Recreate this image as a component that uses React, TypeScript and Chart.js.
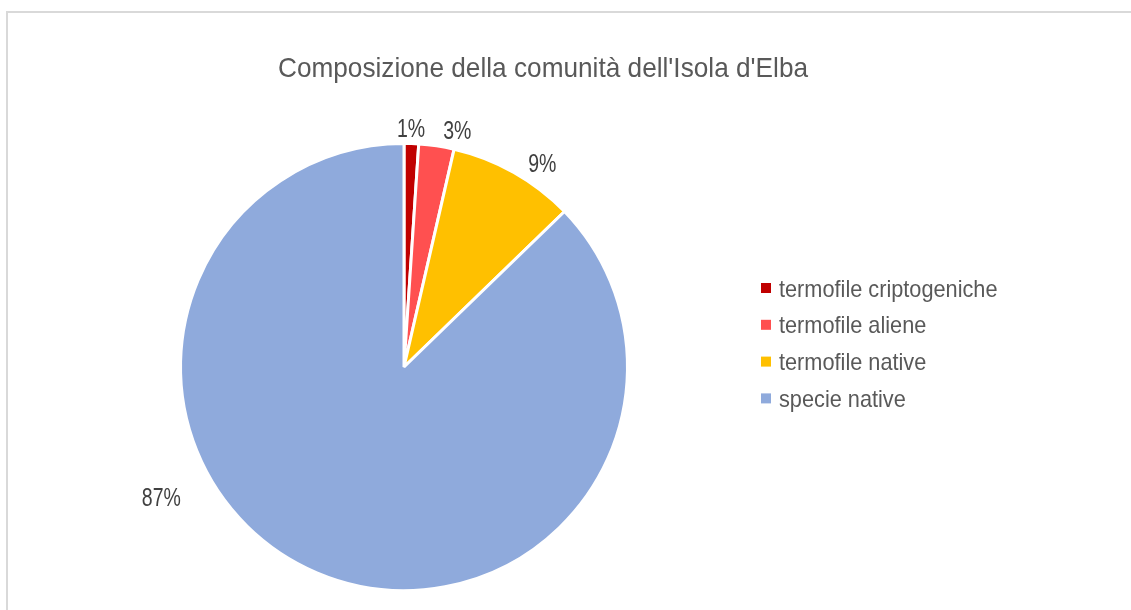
import React, { useEffect, useRef } from "react";
import { Chart, registerables } from "chart.js";

Chart.register(...registerables);

const chartTitle = "Composizione della comunità dell'Isola d'Elba";
const categories = [
  "termofile criptogeniche",
  "termofile aliene",
  "termofile native",
  "specie native",
];
const values = [1.05, 2.55, 9.15, 87.25];
const colors = ["#C00000", "#FF5050", "#FFC000", "#8FAADC"];

const FONT = "'Liberation Sans', Arial, sans-serif";

// label placement: angle (deg clockwise from top) and distance as fraction of radius
const labelPlacement = [
  { angle: 1.7, dist: 1.072 },
  { angle: 12.7, dist: 1.085 },
  { angle: 34.1, dist: 1.104 },
  { angle: 241.8, dist: 1.232 },
];

function drawScaled(ctx: any, text: string, x: number, y: number, sx: number, align: string) {
  ctx.save();
  ctx.translate(x, y);
  ctx.scale(sx, 1);
  ctx.textAlign = align;
  ctx.fillText(text, 0, 0);
  ctx.restore();
}

const titlePlugin = {
  id: "customTitle",
  afterDraw(chart: any) {
    const ctx = chart.ctx;
    ctx.save();
    ctx.font = `28px ${FONT}`;
    ctx.fillStyle = "#595959";
    ctx.textBaseline = "alphabetic";
    drawScaled(ctx, chartTitle, 543, 77, 0.936, "center");
    ctx.restore();
  },
};

const labelsPlugin = {
  id: "pctLabels",
  afterDatasetsDraw(chart: any) {
    const ctx = chart.ctx;
    const ds = chart.data.datasets[0].data as number[];
    const total = ds.reduce((a, b) => a + b, 0);
    const meta = chart.getDatasetMeta(0);
    ctx.save();
    ctx.font = `25px ${FONT}`;
    ctx.fillStyle = "#404040";
    ctx.textBaseline = "alphabetic";
    meta.data.forEach((arc: any, i: number) => {
      const { x, y, outerRadius } = arc.getProps(["x", "y", "outerRadius"], true);
      const p = labelPlacement[i];
      const a = (p.angle * Math.PI) / 180;
      const px = x + Math.sin(a) * outerRadius * p.dist;
      const py = y - Math.cos(a) * outerRadius * p.dist;
      const txt = Math.round((ds[i] / total) * 100) + "%";
      drawScaled(ctx, txt, px, py + 9, 0.78, "center");
    });
    ctx.restore();
  },
};

const legendPlugin = {
  id: "customLegend",
  afterDraw(chart: any) {
    const ctx = chart.ctx;
    const labels = chart.data.labels as string[];
    const bg = chart.data.datasets[0].backgroundColor as string[];
    ctx.save();
    ctx.font = `24px ${FONT}`;
    ctx.textBaseline = "alphabetic";
    labels.forEach((l, i) => {
      const cy = 288 + i * 36.8;
      ctx.fillStyle = bg[i];
      ctx.fillRect(761, cy - 5, 10, 10);
      ctx.fillStyle = "#595959";
      drawScaled(ctx, l, 779, cy + 8.5, 0.905, "left");
    });
    ctx.restore();
  },
};

export default function App() {
  const ref = useRef<HTMLCanvasElement | null>(null);
  useEffect(() => {
    if (!ref.current) return;
    const chart = new Chart(ref.current, {
      type: "pie",
      data: {
        labels: categories,
        datasets: [
          {
            data: values,
            backgroundColor: colors,
            borderColor: "#FFFFFF",
            borderWidth: 3,
          },
        ],
      },
      options: {
        animation: false,
        responsive: true,
        maintainAspectRatio: false,
        layout: { padding: { left: 179, right: 502, top: 142, bottom: 18 } },
        plugins: {
          legend: { display: false },
          title: { display: false },
          tooltip: { enabled: false },
        },
      },
      plugins: [titlePlugin, labelsPlugin, legendPlugin],
    });
    return () => chart.destroy();
  }, []);
  return (
    <div
      style={{
        position: "fixed",
        left: 0,
        top: 0,
        width: 1131,
        height: 610,
        background: "#FFFFFF",
        overflow: "hidden",
      }}
    >
      <div
        style={{
          position: "absolute",
          left: 6,
          top: 11,
          width: 2000,
          height: 2000,
          border: "2px solid #D9D9D9",
          boxSizing: "border-box",
        }}
      />
      <div style={{ position: "absolute", left: 0, top: 0, width: 1131, height: 610 }}>
        <canvas ref={ref} width={1131} height={610} />
      </div>
    </div>
  );
}
